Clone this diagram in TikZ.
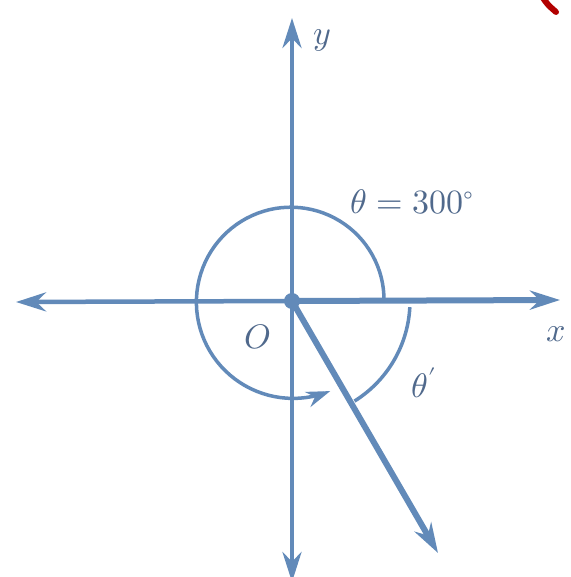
\documentclass[tikz,border=0pt]{standalone}
\usepackage{unicode-math}
\setmathfont{Latin Modern Math}
\usetikzlibrary{arrows.meta}
\definecolor{axblue}{RGB}{98,138,185}
\definecolor{txtblue}{RGB}{80,105,140}
\tikzset{
  axis/.style={draw=axblue, line width=4.5pt, -{Stealth[length=30pt,width=19pt]}},
  lbl/.style={text=txtblue, font=\fontsize{34}{38}\selectfont, inner sep=0pt},
  arcline/.style={draw=axblue, line width=3.5pt},
}
\begin{document}
\begin{tikzpicture}[x=1pt,y=-1pt]
\fill[white] (0,0) rectangle (570,577);
\useasboundingbox (0,0) rectangle (570,577);
\coordinate (O) at (292,301);
\coordinate (xl) at (16,302);
\coordinate (xr) at (560,300);
\coordinate (yt) at (292,18);
\coordinate (yb) at (292,582);
\coordinate (rt) at (438,553);
% axes
\draw[axis] (O) -- (xl);
\draw[axis, line width=6pt] (O) -- (xr);
\draw[axis] (O) -- (yt);
\draw[axis] (O) -- (yb);
% terminal ray
\draw[axis, line width=6pt] (O) -- (rt);
\fill[axblue] (O) circle (8pt);
% 300 degree arc (slight spiral) with arrow
\draw[arcline, -{Stealth[length=24pt,width=16pt]}]
  plot[domain=0:293, samples=80, variable=\t]
  ({292+(92+0.02*\t)*cos(\t)}, {301-(92+0.02*\t)*sin(\t)});
% theta' arc
\draw[arcline] plot[domain=-3:-58, samples=30, variable=\t]
  ({292+118*cos(\t)}, {301-118*sin(\t)});
% labels
\node[lbl] (ly) at (322,40) {$y$};
\node[lbl] (lx) at (556,334) {$x$};
\node[lbl] (lO) at (258,337) {$O$};
\node[lbl] (lt) at (412,202) {$\theta = 300^\circ$};
\node[lbl] (ltp) at (424,383) {$\theta'$};
% red mark at corner
\draw[red!70!black, line width=6pt, line cap=round] (543,-2) .. controls (548,5) .. (556,12);
\end{tikzpicture}
\end{document}
